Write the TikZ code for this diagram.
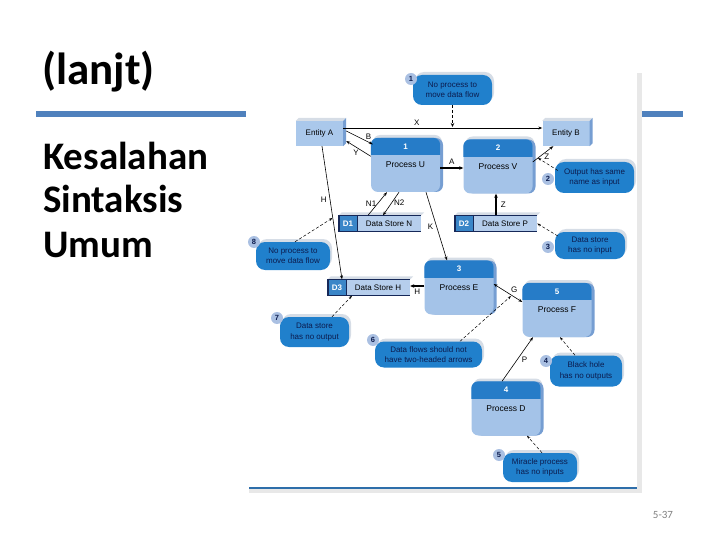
\documentclass[tikz,border=0pt]{standalone}
\usepackage{fontspec}
\setmainfont{Liberation Sans}
\newfontfamily\titlefont{Carlito}
\usepackage{xcolor}
\usetikzlibrary{arrows.meta, positioning, calc, shadows}
\definecolor{slideblue}{RGB}{79,129,189}
\definecolor{noteblue}{RGB}{32,128,204}
\definecolor{notetext}{RGB}{12,28,78}
\definecolor{procbody}{RGB}{164,195,232}
\definecolor{prochead}{RGB}{38,124,200}
\definecolor{procside}{RGB}{118,158,210}
\definecolor{topgray}{RGB}{214,221,230}
\definecolor{entfill}{RGB}{170,200,235}
\definecolor{storebody}{RGB}{182,206,236}
\definecolor{storeid}{RGB}{58,134,200}
\definecolor{storeline}{RGB}{22,40,88}
\definecolor{badgefill}{RGB}{170,192,226}
\definecolor{framegray}{RGB}{232,232,232}
\definecolor{frameline}{RGB}{46,110,170}

\begin{document}
\begin{tikzpicture}[x=1pt, y=-1pt,
    every node/.style={font=\fontsize{8}{10.5}\selectfont, inner sep=0pt},
    ent/.style={rectangle, fill=entfill, minimum width=47pt, minimum height=25pt},
    proc/.style={rectangle, rounded corners=7pt, fill=procbody, minimum width=69pt, minimum height=54pt,
        copy shadow={shadow xshift=2pt, shadow yshift=3pt, fill=topgray, draw=none},
        copy shadow={shadow xshift=3pt, shadow yshift=0pt, fill=procside, draw=none}},
    store/.style={rectangle, fill=storebody, minimum width=82pt, minimum height=16pt},
    storeid/.style={rectangle, fill=storeid, text=white, font=\fontsize{8}{9}\selectfont\bfseries,
        minimum width=18pt, minimum height=16pt},
    note/.style={rectangle, rounded corners=9pt, fill=noteblue, text=notetext, align=center,
        copy shadow={shadow xshift=2pt, shadow yshift=3pt, fill=topgray, draw=none}},
    badge/.style={circle, fill=badgefill, text=notetext, minimum size=12pt,
        font=\fontsize{7.5}{8}\selectfont\bfseries},
    slidetext/.style={font=\titlefont\fontsize{39}{44}\selectfont\bfseries, anchor=base west},
    lbl/.style={font=\fontsize{8}{9}\selectfont},
    flow/.style={-{Stealth[length=4pt, width=3pt]}, line width=0.6pt},
    bigflow/.style={-{Stealth[length=4pt, width=3.5pt]}, line width=1.5pt},
    err/.style={densely dashed, line width=0.5pt, -{Stealth[length=3.5pt, width=2.5pt]}},
    bigerr/.style={densely dashed, line width=1.4pt, -{Stealth[length=4pt, width=3.5pt]}}]

    \useasboundingbox (0,0) rectangle (720,540);

    % slide text
    \node[slidetext, font=\titlefont\fontsize{45}{48}\selectfont\bfseries] (title) at (42,85) {(lanjt)};
    \fill[slideblue] (36,111) rectangle (246,117);
    \fill[slideblue] (642,111) rectangle (683,117);
    \node[slidetext] (kes) at (43,170) {Kesalahan};
    \node[slidetext] (sin) at (43,213) {Sintaksis};
    \node[slidetext] (umu) at (43,257) {Umum};
    \node[font=\titlefont\fontsize{11}{12}\selectfont, text=gray] (page) at (663,515) {5-37};

    % picture frame
    \fill[framegray] (637,73) rectangle (642,493);
    \fill[framegray] (249,489) rectangle (642,493);
    \draw[frameline, line width=1.2pt] (249,488) -- (637,488);

    % entities
    \node[ent] (ea) at (319.5,133.5) {Entity A};
    \node[ent] (eb) at (566,133.5) {Entity B};
    \foreach \n in {ea, eb} {
        \fill[topgray] (\n.north west) -- ([xshift=3pt, yshift=3pt]\n.north west)
            -- ([xshift=3pt, yshift=3pt]\n.north east) -- (\n.north east) -- cycle;
        \fill[procside] (\n.north east) -- ([xshift=3pt, yshift=3pt]\n.north east)
            -- ([xshift=3pt, yshift=3pt]\n.south east) -- (\n.south east) -- cycle;
    }

    % processes
    \foreach \n/\x/\y/\k/\t in {pu/405.5/165/1/U, pv/498/166.5/2/V, pe/459/287.5/3/E,
                                pf/557/310/5/F, pd/506/408.5/4/D} {
        \node[proc] (\n) at (\x,\y) {};
        \begin{scope}
            \clip ([yshift=-17pt]\n.north west) rectangle ([yshift=2pt]\n.north east);
            \fill[prochead, rounded corners=7pt] (\n.south west) rectangle (\n.north east);
        \end{scope}
        \node[text=white, font=\fontsize{8}{9}\selectfont\bfseries] (\n-num) at ([yshift=-8.5pt]\n.north) {\k};
        \node[font=\fontsize{8.5}{10}\selectfont] (\n-txt) at ([yshift=-27pt]\n.north) {Process \t};
    }

    % data stores
    \foreach \n/\x/\y/\d/\t in {dsn/380/223.5/D1/Data Store N, dsp/496/223.5/D2/Data Store P,
                                dsh/369/287.5/D3/Data Store H} {
        \node[store] (\n) at (\x,\y) {};
        \fill[topgray] (\n.north west) -- ([xshift=3pt, yshift=3pt]\n.north west)
            -- ([xshift=3pt, yshift=3pt]\n.north east) -- (\n.north east) -- cycle;
        \node[storeid, anchor=west] (\n-id) at (\n.west) {\d};
        \node (\n-txt) at ([xshift=9pt]\n.center) {\t};
        \draw[storeline, line width=0.5pt] (\n.north west) -- (\n.north east);
        \draw[storeline, line width=0.5pt] (\n-id.north east) -- (\n-id.south east);
        \draw[storeline, line width=1.4pt] (\n.north west) -- (\n.south west) -- (\n.south east);
    }

    % flows
    \draw[flow] ([yshift=5.5pt]ea.east) -- node[lbl, pos=0.37, above=2pt] (lx) {X} ([yshift=5.5pt]eb.west);
    \draw[flow] ([xshift=3pt, yshift=2.5pt]ea.east) -- node[lbl, pos=0.7, above right=1pt] (lb) {B}
        ([xshift=2pt, yshift=-6.5pt]pu.north west);
    \draw[flow] ([yshift=-18.5pt]pu.north west) -- node[lbl, pos=0.45, below left=1pt] (ly) {Y}
        ([xshift=3pt, yshift=-7.5pt]ea.east);
    \draw[bigflow] ([yshift=-3pt]pu.east) -- node[lbl, above=3pt] (la) {A} ([yshift=-1.5pt]pv.west);
    \draw[flow] ([yshift=4.5pt]pv.east) -- node[lbl, pos=0.55, below right=0pt] (lz1) {Z}
        ([xshift=11pt]eb.south west);
    \draw[bigflow] (dsp.north) -- node[lbl, right=4pt] (lz2) {Z} (dsp.north |- pv.south);
    \draw[flow] ([xshift=-12pt]dsn.north) -- node[lbl, left=1pt] (ln1) {N1} ([xshift=-18.5pt]pu.south);
    \draw[flow] ([xshift=-6.5pt]pu.south) -- node[lbl, pos=0.45, right=2pt] (ln2) {N2} ([xshift=3pt]dsn.north);
    \draw[flow] ([xshift=2.5pt]ea.south) -- node[lbl, pos=0.4, left=3pt] (lh1) {H} ([xshift=-27pt]dsh.north);
    \draw[flow] ([xshift=20.5pt]pu.south) -- node[lbl, pos=0.5, left=3pt] (lk) {K} ([xshift=-12pt]pe.north);
    \draw[bigflow] ([yshift=1.5pt]pe.west) -- node[lbl, below=2pt] (lh2) {H} ([yshift=1.5pt]pe.west -| dsh.east);
    \draw[{Stealth[length=4pt, width=3pt]}-{Stealth[length=4pt, width=3pt]}, line width=0.6pt]
        ([yshift=3.5pt]pe.east) -- node[lbl, pos=0.55, above right=2pt] (lg) {G} ([yshift=8pt]pf.west);
    \draw[flow] ([xshift=-4pt]pd.north) -- node[lbl, pos=0.5, right=4pt] (lp) {P} ([xshift=-24pt]pf.south);

    % error notes
    \node[note, minimum width=79pt, minimum height=30pt] (n1) at (452.5,90) {No process to\\move data flow};
    \node[note, minimum width=79pt, minimum height=31pt] (n2) at (594.5,177.5) {Output has same\\name as input};
    \node[note, minimum width=70pt, minimum height=27pt] (n3) at (590,245.5) {Data store\\has no input};
    \node[note, minimum width=72pt, minimum height=31pt] (n4) at (586,371) {Black hole\\has no outputs};
    \node[note, minimum width=74pt, minimum height=29pt] (n5) at (540,467.5) {Miracle process\\has no inputs};
    \node[note, minimum width=107pt, minimum height=26pt] (n6) at (428.5,354.5) {Data flows should not\\have two-headed arrows};
    \node[note, minimum width=69pt, minimum height=30pt] (n7) at (314.5,332) {Data store\\has no output};
    \node[note, minimum width=74pt, minimum height=28pt] (n8) at (293,256) {No process to\\move data flow};

    \foreach \b/\x/\y/\k in {b1/411/79/1, b2/548/179/2, b3/548/247/3, b4/546/361/4,
                             b5/499/455/5, b6/373/340/6, b7/277/318/7, b8/254/242/8} {
        \node[badge] (\b) at (\x,\y) {\k};
    }

    \coordinate (xhit) at (452.5,127);
    \coordinate (zhit) at (538,158);
    \coordinate (hhit) at (332.5,218);
    \coordinate (ghit) at (511,296);
    \draw[bigerr] (n1.south) -- (xhit);
    \draw[err] ([xshift=3pt, yshift=7pt]n2.west) -- (zhit);
    \draw[err] ([xshift=3pt, yshift=9.5pt]n3.west) -- (dsp.east);
    \draw[err] ([xshift=-11pt]n4.north) -- ([xshift=3pt]pf.south);
    \draw[err] ([xshift=2pt]n5.north) -- ([xshift=21pt]pd.south);
    \draw[err] ([xshift=31.5pt]n6.north) -- (ghit);
    \draw[err] ([xshift=17.5pt]n7.north) -- ([xshift=-17pt]dsh.south);
    \draw[err] ([xshift=2pt]n8.north) -- (hhit);
\end{tikzpicture}
\end{document}
